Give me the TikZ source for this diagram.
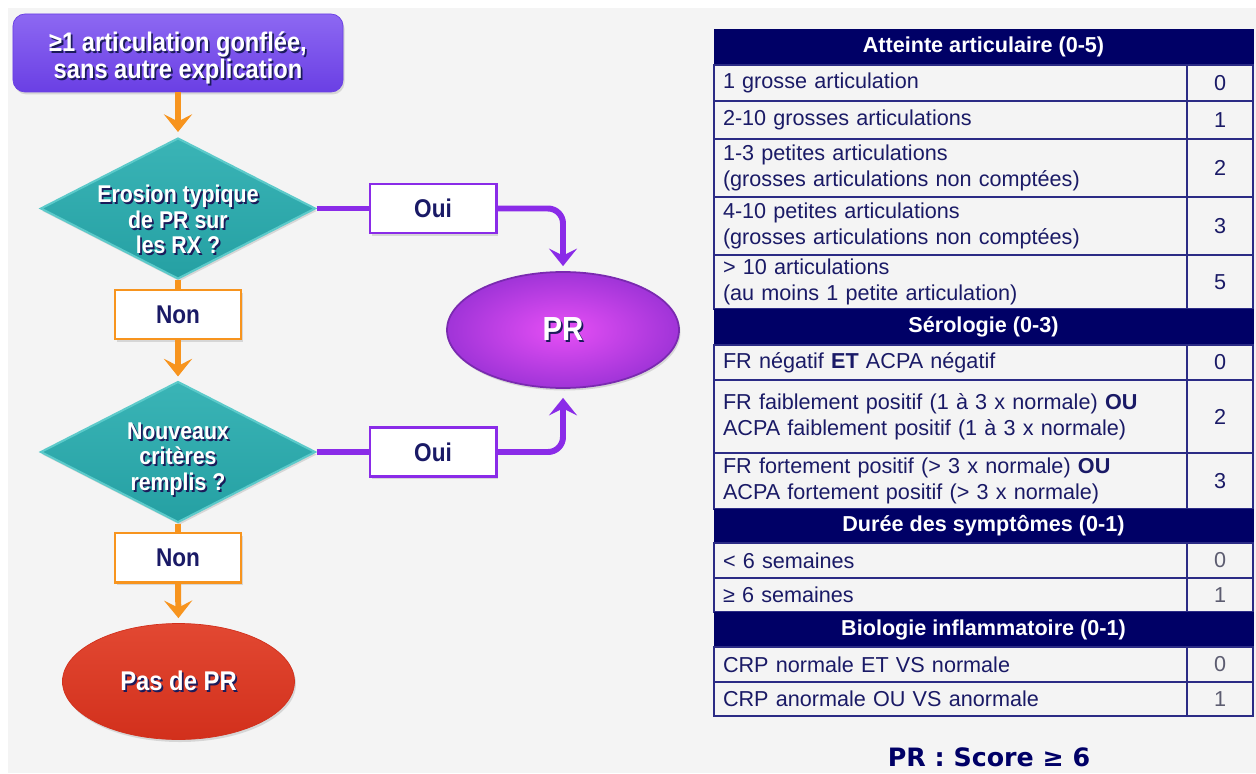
\documentclass[tikz,border=0pt]{standalone}
\usepackage{fontspec}
\setmainfont{Liberation Sans}
\newfontfamily\narrowsf[FakeStretch=0.88]{Liberation Sans}
\newfontfamily\widesf{DejaVu Sans}
\usetikzlibrary{shapes.geometric,arrows.meta,shadows}

\definecolor{bg}{HTML}{F4F4F4}
\definecolor{navy}{HTML}{000066}
\definecolor{ink}{HTML}{1A1A66}
\definecolor{tblline}{HTML}{2B2B85}
\definecolor{dim}{HTML}{5C5C70}
\definecolor{shade}{HTML}{1B1B5A}
\definecolor{orng}{HTML}{F7941E}
\definecolor{purp}{HTML}{8A2BE8}
\definecolor{violtop}{HTML}{8D68F2}
\definecolor{violbot}{HTML}{6A3FE4}
\definecolor{tealtop}{HTML}{3AB4B6}
\definecolor{tealbot}{HTML}{25A0A3}
\definecolor{tealrim}{HTML}{5CCACA}
\definecolor{magin}{HTML}{E64FF5}
\definecolor{magout}{HTML}{A034D8}
\definecolor{magrim}{HTML}{7A2AB0}
\definecolor{redtop}{HTML}{E24832}
\definecolor{redbot}{HTML}{D2301C}

\newcommand{\shd}[1]{\leavevmode\rlap{\kern1pt\raisebox{-1pt}{\textcolor{shade}{#1}}}#1}

\tikzset{
  softshadow/.style={drop shadow={opacity=0.25,shadow xshift=0.03cm,shadow yshift=-0.05cm}},
  startbox/.style={rectangle, rounded corners=0.24cm, minimum width=6.6cm, minimum height=1.56cm,
    inner sep=0pt, text height=1.16cm, top color=violtop, bottom color=violbot, draw=violbot,
    text=white, align=center, softshadow, font=\narrowsf\bfseries\fontsize{15.3}{15.4}\selectfont},
  question/.style={diamond, aspect=1.95, minimum width=5.5cm, minimum height=2.82cm, inner sep=-0.4cm,
    top color=tealtop, bottom color=tealbot, draw=tealrim, line width=1.2pt, text=white, align=center,
    softshadow, font=\narrowsf\bfseries\fontsize{13.8}{14.5}\selectfont},
  labelbox/.style={rectangle, fill=white, line width=1.7pt, minimum width=2.52cm, minimum height=0.98cm,
    text=ink, softshadow, font=\narrowsf\bfseries\fontsize{14.6}{16}\selectfont},
  nonbox/.style={labelbox, draw=orng},
  ouibox/.style={labelbox, draw=purp},
  endoval/.style={ellipse, minimum width=4.64cm, minimum height=2.32cm, inner sep=0pt, text=white, softshadow},
  flow/.style={orng, line width=3.4pt},
  yes/.style={purp, line width=3.4pt},
  tip/.style={-{Stealth[length=10pt,width=16pt,inset=4pt]}},
  head/.style={rectangle, draw=navy, fill=navy, text=white, minimum width=10.78cm, minimum height=#1,
    inner sep=0pt, font=\bfseries\fontsize{12.3}{14.8}\selectfont},
  cell/.style={rectangle, draw=tblline, line width=1pt, text=ink, text width=9.1cm, align=left,
    minimum height=#1, inner xsep=0.18cm, inner ysep=0pt, font=\fontsize{12.3}{14.8}\selectfont},
  score/.style={rectangle, draw=tblline, line width=1pt, text=ink, minimum width=1.32cm,
    minimum height=#1, inner sep=0pt, font=\fontsize{12.3}{14.8}\selectfont}
}

\begin{document}
\begin{tikzpicture}
  \useasboundingbox (0,0) rectangle (25.12,15.46);
  \fill[bg] (0.16,0) rectangle (25.12,15.3);

  \node[startbox] (start) at (3.56,14.4) {\shd{≥1 articulation gonflée,}\\\shd{sans autre explication}};
  \node[question,text height=1.85cm] (q1) at (3.56,11.29) {\shd{Erosion typique}\\\shd{de PR sur}\\\shd{les RX ?}};
  \node[nonbox] (non1) at (3.56,9.17) {Non};
  \node[question,text height=1.67cm] (q2) at (3.56,6.42) {\shd{Nouveaux}\\\shd{critères}\\\shd{remplis ?}};
  \node[nonbox] (non2) at (3.56,4.31) {Non};
  \node[endoval, top color=redtop, bottom color=redbot, draw=redbot,
    font=\narrowsf\bfseries\fontsize{15.4}{16}\selectfont] (paspr) at (3.57,1.83) {\shd{Pas de PR}};
  \node[ouibox] (oui1) at (8.66,11.29) {Oui};
  \node[ouibox] (oui2) at (8.66,6.42) {Oui};
  \node[endoval, inner color=magin, outer color=magout, draw=magrim, line width=1pt,
    font=\narrowsf\bfseries\fontsize{19}{20}\selectfont] (pr) at (11.26,8.86) {\shd{PR}};

  \draw[flow,tip,shorten >=0.1cm] (start.south) -- (q1.north);
  \draw[flow] (q1.south) -- (non1.north);
  \draw[flow,tip,shorten >=0.08cm] (non1.south) -- (q2.north);
  \draw[flow] (q2.south) -- (non2.north);
  \draw[flow,tip,shorten >=0.1cm] (non2.south) -- (paspr.north);

  \draw[yes] (q1.east) -- (oui1.west);
  \draw[yes,tip,rounded corners=0.3cm,shorten >=0.1cm] (oui1.east) -| (pr.north);
  \draw[yes] (q2.east) -- (oui2.west);
  \draw[yes,tip,rounded corners=0.3cm,shorten >=0.18cm] (oui2.east) -| (pr.south);

  \node[head=0.72cm] (h1) at (19.67,14.52) {Atteinte articulaire (0-5)};
  \node[cell=0.72cm] (t1) at (19.01,13.80) {1 grosse articulation};
  \node[score=0.72cm] (v1) at (24.40,13.80) {0};
  \node[cell=0.76cm] (t2) at (19.01,13.06) {2-10 grosses articulations};
  \node[score=0.76cm] (v2) at (24.40,13.06) {1};
  \node[cell=1.16cm] (t3) at (19.01,12.10) {1-3 petites articulations\\(grosses articulations non comptées)};
  \node[score=1.16cm] (v3) at (24.40,12.10) {2};
  \node[cell=1.16cm] (t4) at (19.01,10.94) {4-10 petites articulations\\(grosses articulations non comptées)};
  \node[score=1.16cm] (v4) at (24.40,10.94) {3};
  \node[cell=1.08cm] (t5) at (19.01,9.82) {> 10 articulations\\(au moins 1 petite articulation)};
  \node[score=1.08cm] (v5) at (24.40,9.82) {5};

  \node[head=0.72cm] (h2) at (19.67,8.92) {Sérologie (0-3)};
  \node[cell=0.70cm] (t6) at (19.01,8.21) {FR négatif \textbf{ET} ACPA négatif};
  \node[score=0.70cm] (v6) at (24.40,8.21) {0};
  \node[cell=1.46cm] (t7) at (19.01,7.13) {FR faiblement positif (1 à 3 x normale) \textbf{OU}\\ACPA faiblement positif (1 à 3 x normale)};
  \node[score=1.46cm] (v7) at (24.40,7.13) {2};
  \node[cell=1.12cm] (t8) at (19.01,5.84) {FR fortement positif (> 3 x normale) \textbf{OU}\\ACPA fortement positif (> 3 x normale)};
  \node[score=1.12cm] (v8) at (24.40,5.84) {3};

  \node[head=0.68cm] (h3) at (19.67,4.94) {Durée des symptômes (0-1)};
  \node[cell=0.70cm] (t9) at (19.01,4.25) {< 6 semaines};
  \node[score=0.70cm,text=dim] (v9) at (24.40,4.25) {0};
  \node[cell=0.68cm] (t10) at (19.01,3.56) {≥ 6 semaines};
  \node[score=0.68cm,text=dim] (v10) at (24.40,3.56) {1};

  \node[head=0.70cm] (h4) at (19.67,2.87) {Biologie inflammatoire (0-1)};
  \node[cell=0.70cm] (t11) at (19.01,2.17) {CRP normale ET VS normale};
  \node[score=0.70cm,text=dim] (v11) at (24.40,2.17) {0};
  \node[cell=0.68cm] (t12) at (19.01,1.48) {CRP anormale OU VS anormale};
  \node[score=0.68cm,text=dim] (v12) at (24.40,1.48) {1};

  \node[anchor=base,text=navy,font=\widesf\bfseries\fontsize{14.4}{16}\selectfont] (verdict) at (19.78,0.14) {PR : Score ≥ 6};
\end{tikzpicture}
\end{document}
